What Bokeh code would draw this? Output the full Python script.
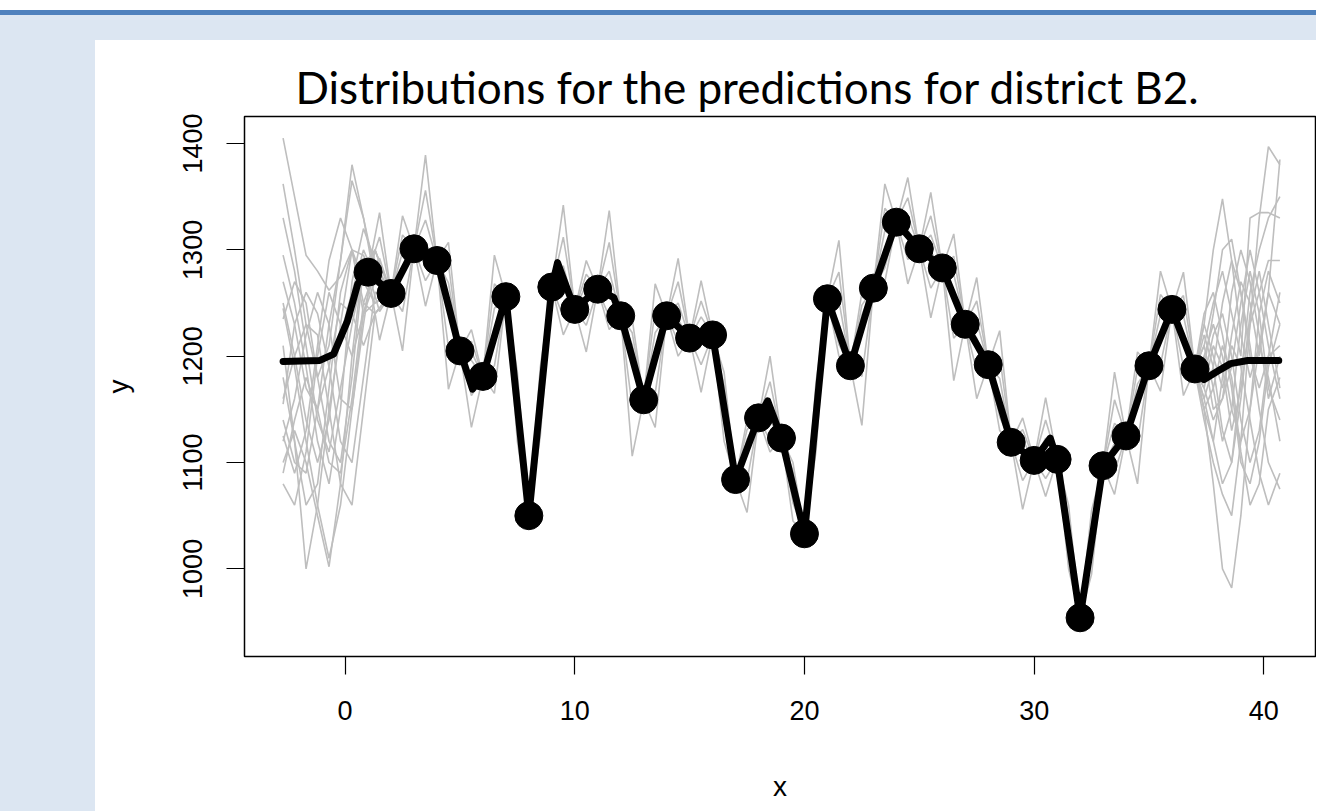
from bokeh.plotting import figure
from bokeh.layouts import column, row
from bokeh.models import Spacer, Range1d, FixedTicker
from bokeh.embed import file_html
from bokeh.resources import INLINE

# ---------------- data ----------------
title_text = "Distributions for the predictions for district B2."
x_ticks = [0, 10, 20, 30, 40]
y_ticks = [1000, 1100, 1200, 1300, 1400]

# observed points (black dots)
dots_x = list(range(1, 38))
dots_y = [1279, 1259, 1301, 1290, 1205, 1181, 1256, 1050, 1265, 1244,
          1263, 1238, 1159, 1238, 1217, 1220, 1084, 1142, 1123, 1033,
          1254, 1191, 1264, 1326, 1301, 1283, 1230, 1192, 1119, 1102,
          1103, 954, 1097, 1125, 1191, 1244, 1188]

# mean prediction curve (thick black line)
curve_x = [-2.7, -1.1, -0.5, 0.1, 0.55, 1, 2, 3, 4, 5, 5.55, 6, 7, 8, 9, 9.25, 10,
           11, 11.7, 12, 13, 14, 15, 16, 17, 18, 18.4, 19, 20, 21, 22, 23, 24, 25,
           26, 27, 28, 29, 30, 30.7, 31, 32, 33, 34, 35, 36, 37, 37.4, 38, 38.55,
           39.3, 40.65]
curve_y = [1195, 1196, 1202, 1233, 1268, 1279, 1259, 1301, 1290, 1205, 1169, 1181,
           1256, 1050, 1265, 1288, 1244, 1263, 1255, 1238, 1159, 1238, 1217, 1220,
           1084, 1142, 1158, 1123, 1033, 1254, 1191, 1264, 1326, 1301, 1283, 1230,
           1192, 1119, 1102, 1123, 1103, 954, 1097, 1125, 1191, 1244, 1188, 1178,
           1186, 1193, 1196, 1196]

# sampled predictions: left tails
left_x = [-2.7, -2.2, -1.7, -1.2, -0.7, -0.2, 0.3, 0.8, 1.3, 2.0]
left_1 = [1405, 1350, 1295, 1280, 1262, 1275, 1300, 1295, 1268, 1262]
left_2 = [1362, 1300, 1230, 1180, 1210, 1290, 1365, 1330, 1280, 1260]
left_3 = [1295, 1250, 1190, 1120, 1080, 1150, 1270, 1320, 1290, 1257]
left_4 = [1250, 1200, 1140, 1100, 1140, 1230, 1300, 1270, 1250, 1258]
left_5 = [1235, 1270, 1250, 1180, 1120, 1100, 1180, 1285, 1300, 1261]
left_6 = [1210, 1120, 1000, 1060, 1150, 1220, 1260, 1300, 1275, 1256]
left_7 = [1180, 1120, 1060, 1080, 1170, 1260, 1300, 1250, 1240, 1259]
left_8 = [1160, 1200, 1230, 1220, 1150, 1080, 1060, 1150, 1240, 1258]
left_9 = [1140, 1100, 1090, 1150, 1230, 1290, 1380, 1330, 1270, 1260]
left_10 = [1120, 1160, 1220, 1260, 1230, 1160, 1150, 1230, 1300, 1259]
left_11 = [1100, 1130, 1100, 1050, 1002, 1080, 1200, 1290, 1270, 1257]
left_12 = [1090, 1140, 1180, 1150, 1100, 1090, 1160, 1250, 1280, 1260]
left_13 = [1080, 1060, 1110, 1200, 1260, 1230, 1200, 1240, 1270, 1258]
left_14 = [1270, 1230, 1170, 1150, 1190, 1250, 1240, 1210, 1240, 1259]
left_15 = [1330, 1280, 1210, 1140, 1110, 1170, 1230, 1280, 1300, 1258]
left_16 = [1125, 1090, 1130, 1210, 1290, 1330, 1300, 1240, 1250, 1260]
left_17 = [1245, 1190, 1120, 1060, 1010, 1060, 1150, 1240, 1285, 1259]
left_18 = [1155, 1230, 1260, 1240, 1190, 1120, 1100, 1180, 1260, 1257]

# sampled predictions: right tails
right_x = [37.0, 37.4, 37.8, 38.2, 38.6, 39.0, 39.4, 39.8, 40.2, 40.7]
right_1 = [1188, 1230, 1300, 1348, 1290, 1220, 1180, 1210, 1260, 1230]
right_2 = [1190, 1150, 1080, 1000, 982, 1050, 1150, 1240, 1280, 1250]
right_3 = [1186, 1140, 1100, 1070, 1050, 1120, 1230, 1330, 1397, 1380]
right_4 = [1189, 1210, 1250, 1280, 1240, 1200, 1330, 1335, 1335, 1330]
right_5 = [1187, 1170, 1140, 1160, 1220, 1270, 1250, 1200, 1260, 1385]
right_6 = [1188, 1200, 1230, 1200, 1150, 1120, 1150, 1210, 1180, 1120]
right_7 = [1189, 1160, 1190, 1250, 1290, 1260, 1210, 1150, 1100, 1075]
right_8 = [1186, 1220, 1190, 1130, 1100, 1160, 1240, 1280, 1230, 1170]
right_9 = [1188, 1180, 1220, 1240, 1200, 1140, 1100, 1130, 1200, 1260]
right_10 = [1190, 1210, 1170, 1120, 1150, 1230, 1280, 1240, 1170, 1140]
right_11 = [1187, 1150, 1120, 1180, 1260, 1300, 1270, 1220, 1160, 1200]
right_12 = [1189, 1240, 1260, 1220, 1170, 1100, 1080, 1120, 1190, 1230]
right_13 = [1188, 1170, 1210, 1190, 1130, 1170, 1230, 1260, 1290, 1290]
right_14 = [1187, 1200, 1150, 1160, 1190, 1250, 1300, 1260, 1210, 1160]
right_15 = [1188, 1160, 1120, 1080, 1100, 1180, 1260, 1300, 1330, 1350]
right_16 = [1189, 1230, 1200, 1170, 1210, 1190, 1140, 1090, 1060, 1090]
right_17 = [1187, 1190, 1240, 1300, 1310, 1260, 1200, 1170, 1200, 1210]
right_18 = [1188, 1150, 1170, 1210, 1180, 1110, 1060, 1080, 1150, 1180]

# sampled predictions between the observed points (values half-way between dots)
mid_1 = [1335, 1332, 1389, 1307, 1225, 1295, 1185, 1190, 1342, 1290, 1337, 1235,
         1268, 1292, 1271, 1185, 1140, 1200, 1100, 1175, 1309, 1260, 1362, 1368,
         1354, 1315, 1274, 1224, 1142, 1161, 1060, 1055, 1185, 1204, 1280, 1279]
mid_2 = [1312, 1314, 1356, 1286, 1214, 1268, 1174, 1179, 1312, 1277, 1307, 1222,
         1244, 1270, 1252, 1173, 1131, 1176, 1092, 1164, 1279, 1248, 1339, 1349,
         1332, 1294, 1252, 1200, 1131, 1140, 1049, 1045, 1159, 1188, 1258, 1257]
mid_3 = [1292, 1298, 1328, 1269, 1204, 1245, 1164, 1169, 1285, 1267, 1280, 1211,
         1222, 1250, 1237, 1164, 1122, 1156, 1086, 1154, 1252, 1239, 1318, 1332,
         1314, 1277, 1233, 1179, 1121, 1123, 1039, 1036, 1137, 1174, 1239, 1238]
mid_4 = [1276, 1285, 1304, 1254, 1196, 1226, 1156, 1161, 1264, 1258, 1259, 1202,
         1205, 1234, 1223, 1155, 1116, 1139, 1080, 1146, 1231, 1230, 1302, 1319,
         1298, 1262, 1217, 1162, 1113, 1108, 1031, 1028, 1118, 1163, 1223, 1222]
mid_5 = [1242, 1242, 1271, 1208, 1163, 1191, 1136, 1141, 1237, 1229, 1237, 1152,
         1165, 1214, 1192, 1136, 1083, 1121, 1062, 1127, 1211, 1181, 1283, 1291,
         1264, 1217, 1186, 1143, 1083, 1085, 1014, 1010, 1091, 1119, 1192, 1190]
mid_6 = [1215, 1205, 1247, 1169, 1133, 1165, 1120, 1125, 1220, 1204, 1225, 1106,
         1133, 1200, 1166, 1120, 1053, 1110, 1045, 1110, 1200, 1135, 1270, 1268,
         1236, 1177, 1160, 1130, 1056, 1068, 1000, 995, 1070, 1080, 1167, 1163]

# ---------------- assemble line data ----------------
grey_xs, grey_ys = [], []
for s in [left_1, left_2, left_3, left_4, left_5, left_6, left_7, left_8, left_9,
          left_10, left_11, left_12, left_13, left_14, left_15, left_16, left_17,
          left_18]:
    grey_xs.append(left_x)
    grey_ys.append(s)
for s in [right_1, right_2, right_3, right_4, right_5, right_6, right_7, right_8,
          right_9, right_10, right_11, right_12, right_13, right_14, right_15,
          right_16, right_17, right_18]:
    grey_xs.append(right_x)
    grey_ys.append(s)
for s in [mid_1, mid_2, mid_3, mid_4, mid_5, mid_6]:
    xs, ys = [], []
    for i in range(len(s)):
        xs += [dots_x[i], dots_x[i] + 0.5]
        ys += [dots_y[i], s[i]]
    xs.append(dots_x[-1])
    ys.append(dots_y[-1])
    grey_xs.append(xs)
    grey_ys.append(ys)

# ---------------- figure ----------------
FONT = "Liberation Sans"
PW, PH = 1221, 771
p = figure(width=PW, height=PH,
           x_range=Range1d(-4.38, 42.25), y_range=Range1d(917.6, 1425.4),
           output_backend="svg", toolbar_location=None,
           min_border_left=149, min_border_top=76, min_border_bottom=155,
           min_border_right=1, title=title_text)
p.background_fill_color = "white"
p.border_fill_color = "white"
p.outline_line_color = "black"
p.outline_line_width = 1.5
p.grid.visible = False

p.title.text_font = "Lato"
p.title.text_font_size = "44px"
p.title.text_font_style = "normal"
p.title.text_color = "black"
p.title.align = "left"
p.title.offset = 51
p.title.standoff = 7

p.xaxis.ticker = FixedTicker(ticks=x_ticks)
p.yaxis.ticker = FixedTicker(ticks=y_ticks)
for ax in (p.xaxis, p.yaxis):
    ax.axis_line_color = None
    ax.major_tick_out = 18
    ax.major_tick_in = 0
    ax.minor_tick_out = 0
    ax.minor_tick_in = 0
    ax.major_tick_line_color = "black"
    ax.major_tick_line_width = 1.2
    ax.major_label_text_font = FONT
    ax.major_label_text_font_size = "27px"
    ax.major_label_text_color = "black"
    ax.axis_label_text_font = FONT
    ax.axis_label_text_font_size = "28px"
    ax.axis_label_text_font_style = "normal"
    ax.axis_label_text_color = "black"
p.xaxis.axis_label = "x"
p.yaxis.axis_label = "y"
p.xaxis.major_label_standoff = 26
p.yaxis.major_label_standoff = 24
p.xaxis.axis_label_standoff = 48
p.yaxis.axis_label_standoff = 47
p.yaxis.major_label_orientation = "vertical"

p.multi_line(grey_xs, grey_ys, line_color="#bebebe", line_width=1.6)
p.line(curve_x, curve_y, line_color="black", line_width=7,
       line_join="round", line_cap="round")
p.scatter(dots_x, dots_y, size=28, marker="circle",
          fill_color="black", line_color="black")

# ---------------- slide decoration ----------------
W = 95 + PW
top_white = Spacer(width=W, height=10, background="white")
blue_bar = Spacer(width=W, height=5, background="#4f81bd")
light_bar = Spacer(width=W, height=25, background="#dce6f2")
left_bar = Spacer(width=95, height=PH, background="#dce6f2")
layout = column(top_white, blue_bar, light_bar, row(left_bar, p, spacing=0), spacing=0)

open("out.html", "w").write(file_html(layout, INLINE))
